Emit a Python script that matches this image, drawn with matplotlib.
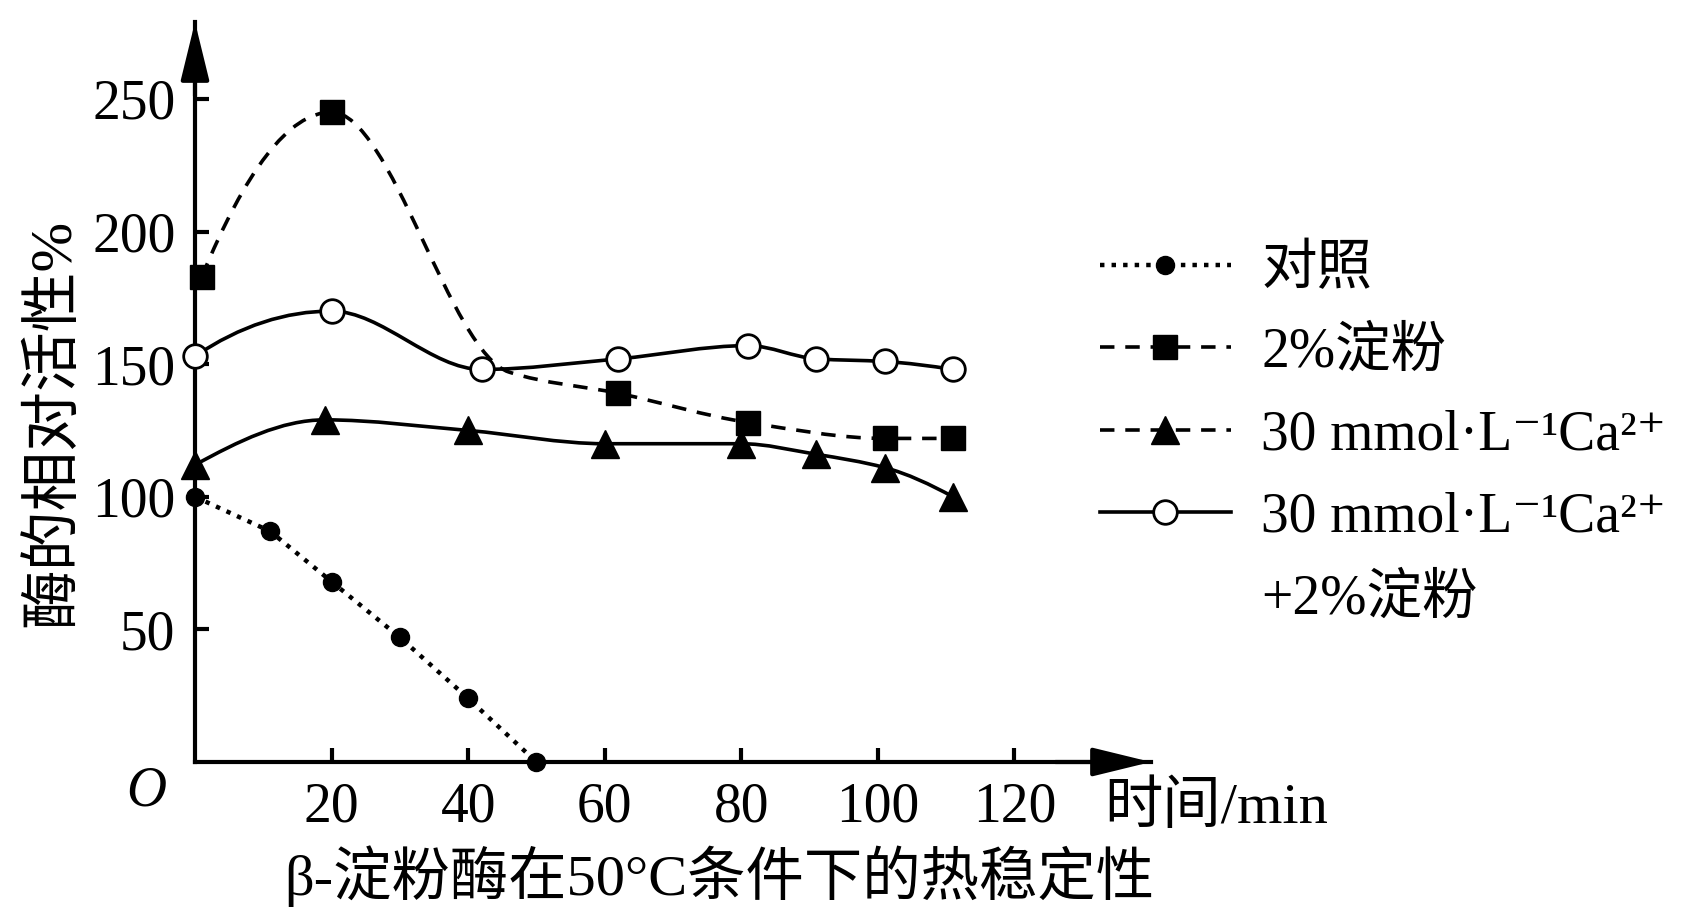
import numpy as np
import matplotlib
matplotlib.use("Agg")
import matplotlib.pyplot as plt
from matplotlib.path import Path
from matplotlib.patches import PathPatch
from matplotlib.lines import Line2D

plt.rcParams['font.family'] = ['Liberation Serif', 'DejaVu Serif', 'Noto Sans CJK SC']

# values (time in min, relative activity in %)
t_ctrl = [0, 11, 20, 30, 40, 50]
v_ctrl = [100, 87, 68, 47, 24, 0]

t_starch = [1, 20, 62, 81, 101, 111]
v_starch = [183, 245, 139, 128, 122, 122]
# the dashed curve also runs through (46, 147), next to the open circle
t_starch_curve = [1, 20, 46, 62, 81, 101, 111]
v_starch_curve = [183, 245, 147, 139, 128, 122, 122]

t_ca = [0, 19, 40, 60, 80, 91, 101, 111]
v_ca = [112, 129, 125, 120, 120, 116, 111, 100]

t_mix = [0, 20, 42, 62, 81, 91, 101, 111]
v_mix = [153, 170, 148, 152, 157, 152, 151, 148]

labels = ['对照', '2%淀粉', '30 mmol·L⁻¹Ca²⁺', '30 mmol·L⁻¹Ca²⁺', '+2%淀粉']
xticks = [20, 40, 60, 80, 100, 120]
yticks = [50, 100, 150, 200, 250]


def slopes(x, y):
    # monotone (pchip style) tangents so the curve doesn't overshoot
    x = np.asarray(x, float); y = np.asarray(y, float)
    h = np.diff(x); d = np.diff(y) / h
    m = np.zeros_like(y)
    for i in range(1, len(y) - 1):
        if d[i-1] * d[i] > 0:
            w1 = 2*h[i] + h[i-1]; w2 = h[i] + 2*h[i-1]
            m[i] = (w1 + w2) / (w1 / d[i-1] + w2 / d[i])
    m[0] = ((2*h[0] + h[1])*d[0] - h[0]*d[1]) / (h[0] + h[1])
    if np.sign(m[0]) != np.sign(d[0]):
        m[0] = 0
    m[-1] = ((2*h[-1] + h[-2])*d[-1] - h[-1]*d[-2]) / (h[-1] + h[-2])
    if np.sign(m[-1]) != np.sign(d[-1]):
        m[-1] = 0
    return m


def smooth_path(x, y):
    m = slopes(x, y)
    verts = [(x[0], y[0])]
    codes = [Path.MOVETO]
    for i in range(len(x) - 1):
        h = x[i+1] - x[i]
        verts += [(x[i] + h/3, y[i] + m[i]*h/3),
                  (x[i+1] - h/3, y[i+1] - m[i+1]*h/3),
                  (x[i+1], y[i+1])]
        codes += [Path.CURVE4] * 3
    return Path(verts, codes)


fig = plt.figure(figsize=(17, 9.08), dpi=100)
ax = fig.add_axes([195/1700, 1 - 762/908, 956/1700, 740/908])
ax.set_xlim(0, 140)
ax.set_ylim(0, 279)

lw = 2.6
dotted = (0, (1.0, 1.6))
dashed = (0, (4, 3))

# control: straight dotted segments
ax.plot(t_ctrl, v_ctrl, ls=dotted, lw=lw + 0.6, color='black', marker='o', ms=13,
        clip_on=False, zorder=3)

ax.add_patch(PathPatch(smooth_path(t_starch_curve, v_starch_curve), fill=False, ec='black',
                       lw=lw, ls=dashed, clip_on=False, zorder=2))
ax.plot(t_starch, v_starch, ls='none', marker='s', ms=17, color='black', clip_on=False, zorder=4)

ax.add_patch(PathPatch(smooth_path(t_ca, v_ca), fill=False, ec='black', lw=lw,
                       clip_on=False, zorder=2))
ax.plot(t_ca, v_ca, ls='none', marker='^', ms=20, color='black', clip_on=False, zorder=4)

ax.add_patch(PathPatch(smooth_path(t_mix, v_mix), fill=False, ec='black', lw=lw,
                       clip_on=False, zorder=2))
ax.plot(t_mix, v_mix, ls='none', marker='o', ms=17, mfc='white', mec='black', mew=2,
        clip_on=False, zorder=4)

# axes with arrows
for s in ['top', 'right']:
    ax.spines[s].set_visible(False)
for s in ['left', 'bottom']:
    ax.spines[s].set_linewidth(3)
arrow = dict(arrowstyle='-|>,head_length=0.9,head_width=0.22', color='black', lw=3,
             mutation_scale=40, shrinkA=0, shrinkB=0)
ax.annotate('', xy=(0, 1), xytext=(0, 0.9), xycoords='axes fraction', arrowprops=arrow)
ax.annotate('', xy=(1, 0), xytext=(0.9, 0), xycoords='axes fraction', arrowprops=arrow)

ax.set_xticks(xticks)
ax.set_yticks(yticks)
ax.tick_params(direction='in', length=10, width=3, labelsize=40)
ax.tick_params(axis='x', pad=14)
ax.tick_params(axis='y', pad=14)

fig.text(146/1700, 1 - 792/908, 'O', fontsize=40, style='italic', ha='center', va='center')
fig.text(1104/1700, 1 - 808/908, '时间/min', fontsize=42, ha='left', va='center')
fig.text(54/1700, 1 - 423/908, '酶的相对活性%', fontsize=43, rotation=90,
         ha='center', va='center')
fig.text(284/1700, 1 - 876/908, 'β-淀粉酶在50°C条件下的热稳定性', fontsize=42,
         ha='left', va='center')

handles = [
    Line2D([], [], color='black', ls=dotted, lw=lw + 0.6, marker='o', ms=13),
    Line2D([], [], color='black', ls=dashed, lw=lw, marker='s', ms=17),
    Line2D([], [], color='black', ls=dashed, lw=lw, marker='^', ms=20),
    Line2D([], [], color='black', ls='-', lw=lw, marker='o', ms=17, mfc='white', mew=2),
    Line2D([], [], ls='none'),
]
fig.legend(handles, labels, loc='upper left', bbox_to_anchor=(1100/1700, 1 - 244/908),
           frameon=False, fontsize=40, handlelength=2.35, handletextpad=0.55,
           labelspacing=0.55, borderpad=0, borderaxespad=0, numpoints=1)

fig.savefig('out.png', dpi=100)
